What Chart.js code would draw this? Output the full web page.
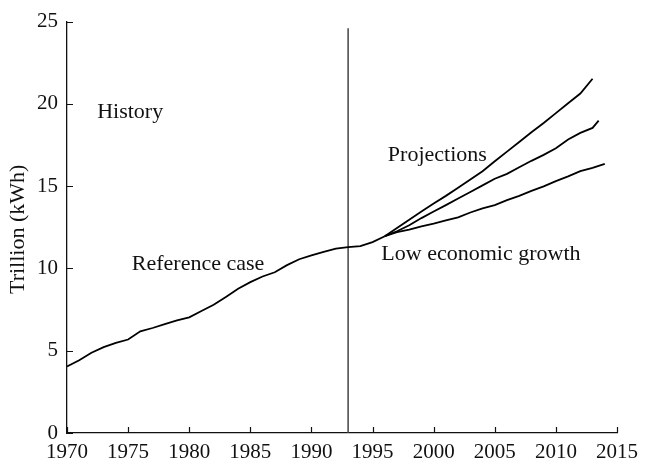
<!DOCTYPE html>
<html lang="en">
<head>
  <meta charset="UTF-8">
  <title>Electricity demand: history and projections</title>
  <script src="https://cdn.jsdelivr.net/npm/chart.js"></script>
  <style>
    body {
      margin: 0;
      background-color: #fff;
    }
    .chart-container {
      width: 645px;
      height: 464px;
    }
  </style>
</head>
<body>
  <div class="chart-container">
    <canvas id="demandChart" width="645" height="464"></canvas>
  </div>

  <script>
    // history, 1970-1996
    const historyYears = [1970, 1971, 1972, 1973, 1974, 1975, 1976, 1977, 1978, 1979, 1980, 1981, 1982,
      1983, 1984, 1985, 1986, 1987, 1988, 1989, 1990, 1991, 1992, 1993, 1994, 1995, 1996];
    const historyValues = [4.04, 4.42, 4.88, 5.22, 5.48, 5.68, 6.18, 6.38, 6.62, 6.84, 7.03, 7.41, 7.79,
      8.27, 8.77, 9.17, 9.51, 9.77, 10.2, 10.56, 10.8, 11.0, 11.2, 11.3, 11.36, 11.6, 11.96];

    // projections branch off at 1996
    const projYears = [1996, 1997, 1998, 1999, 2000, 2001, 2002, 2003, 2004, 2005, 2006, 2007, 2008,
      2009, 2010, 2011, 2012, 2013];
    const highValues = [11.96, 12.46, 12.96, 13.46, 13.95, 14.41, 14.91, 15.41, 15.91, 16.51, 17.1, 17.68, 18.28,
      18.84, 19.44, 20.04, 20.63, 21.53];

    const midYears = [1996, 1997, 1998, 1999, 2000, 2001, 2002, 2003, 2004, 2005, 2006, 2007, 2008,
      2009, 2010, 2011, 2012, 2013, 2013.5];
    const midValues = [11.96, 12.26, 12.62, 13.06, 13.46, 13.85, 14.25, 14.65, 15.05, 15.45, 15.75, 16.15, 16.54,
      16.9, 17.3, 17.84, 18.24, 18.54, 18.98];

    const lowYears = [1996, 1997, 1998, 1999, 2000, 2001, 2002, 2003, 2004, 2005, 2006, 2007, 2008,
      2009, 2010, 2011, 2012, 2013, 2014];
    const lowValues = [11.96, 12.2, 12.36, 12.56, 12.72, 12.92, 13.1, 13.4, 13.65, 13.85, 14.15, 14.41, 14.71,
      14.99, 15.31, 15.59, 15.91, 16.11, 16.35];

    // divider between history and projections
    const dividerYears = [1993, 1993];
    const dividerValues = [0, 24.6];

    const xTicks = [1970, 1975, 1980, 1985, 1990, 1995, 2000, 2005, 2010, 2015];
    const yTicks = [0, 5, 10, 15, 20, 25];

    const FONT = "'Liberation Serif', 'Times New Roman', serif";

    function toPoints(xs, ys) {
      return xs.map((x, i) => ({ x: x, y: ys[i] }));
    }

    function lineSet(label, xs, ys, color, width) {
      return {
        label: label,
        data: toPoints(xs, ys),
        showLine: true,
        borderColor: color,
        borderWidth: width,
        pointRadius: 0,
        tension: 0,
        fill: false
      };
    }

    // annotation texts, anchored in data units (left edge, baseline)
    const notes = [
      { text: 'History', x: 1972.47, y: 19.17 },
      { text: 'Reference case', x: 1975.3, y: 9.9 },
      { text: 'Projections', x: 1996.25, y: 16.5 },
      { text: 'Low economic growth', x: 1995.72, y: 10.5 }
    ];

    const decorations = {
      id: 'decorations',
      afterDraw(chart) {
        const ctx = chart.ctx;
        const xs = chart.scales.x;
        const ys = chart.scales.y;
        const area = chart.chartArea;

        ctx.save();
        // inward tick marks
        ctx.strokeStyle = '#111';
        ctx.lineWidth = 1.2;
        ctx.beginPath();
        xTicks.forEach(v => {
          const px = Math.round(xs.getPixelForValue(v)) + 0.5;
          ctx.moveTo(px, area.bottom);
          ctx.lineTo(px, area.bottom - 6);
        });
        yTicks.forEach(v => {
          const py = Math.round(ys.getPixelForValue(v)) + 0.5;
          ctx.moveTo(area.left, py);
          ctx.lineTo(area.left + 6, py);
        });
        ctx.stroke();

        // notes
        ctx.fillStyle = '#111';
        ctx.font = '22px ' + FONT;
        ctx.textAlign = 'left';
        ctx.textBaseline = 'alphabetic';
        notes.forEach(n => {
          ctx.fillText(n.text, xs.getPixelForValue(n.x), ys.getPixelForValue(n.y));
        });

        // y axis title
        ctx.translate(18, (area.top + area.bottom) / 2 + 2);
        ctx.rotate(-Math.PI / 2);
        ctx.textAlign = 'center';
        ctx.textBaseline = 'middle';
        ctx.fillText('Trillion (kWh)', 0, 0);
        ctx.restore();
      }
    };

    const config = {
      type: 'scatter',
      data: {
        datasets: [
          lineSet('Reference case (history)', historyYears, historyValues, '#000', 1.8),
          lineSet('Projections (high)', projYears, highValues, '#000', 1.8),
          lineSet('Projections (reference)', midYears, midValues, '#000', 1.8),
          lineSet('Low economic growth', lowYears, lowValues, '#000', 1.8),
          lineSet('1993', dividerYears, dividerValues, '#444', 1.5)
        ]
      },
      options: {
        responsive: false,
        animation: false,
        layout: {
          padding: { top: 15, right: 19, left: 0, bottom: 0 }
        },
        plugins: {
          legend: { display: false },
          tooltip: { enabled: false }
        },
        scales: {
          x: {
            type: 'linear',
            min: 1970,
            max: 2015,
            afterFit: s => { s.height = 31; },
            afterBuildTicks: s => { s.ticks = xTicks.map(v => ({ value: v })); },
            grid: { display: false, drawTicks: false },
            border: { display: true, color: '#111', width: 1.3 },
            ticks: {
              padding: 7,
              maxRotation: 0,
              autoSkip: false,
              color: '#111',
              font: { family: FONT, size: 21 },
              callback: v => String(v)
            }
          },
          y: {
            min: 0,
            max: 25,
            afterFit: s => { s.width = 67; },
            afterBuildTicks: s => { s.ticks = yTicks.map(v => ({ value: v })); },
            grid: { display: false, drawTicks: false },
            border: { display: true, color: '#111', width: 1.3 },
            ticks: {
              padding: 9,
              color: '#111',
              font: { family: FONT, size: 21 }
            }
          }
        }
      },
      plugins: [decorations]
    };

    const demandChart = new Chart(document.getElementById('demandChart'), config);
  </script>
</body>
</html>
